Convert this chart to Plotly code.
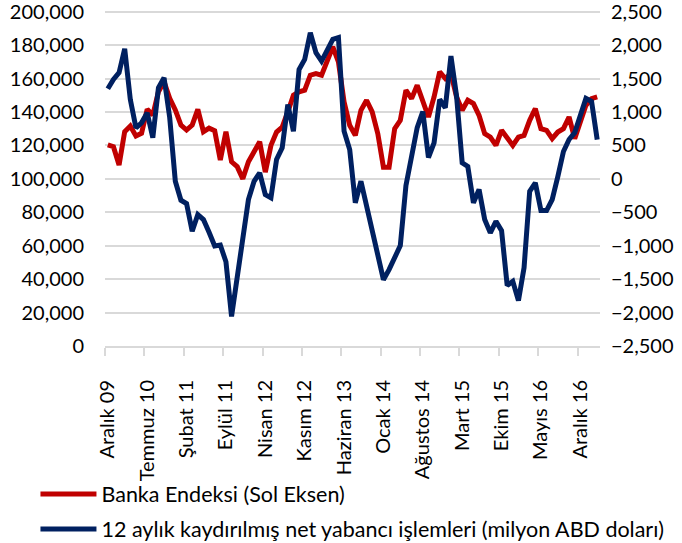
import plotly.graph_objects as go

# Months Dec 2009 .. Mar 2017 (88 monthly points)
month_names = ["Ocak", "Şubat", "Mart", "Nisan", "Mayıs", "Haziran",
               "Temmuz", "Ağustos", "Eylül", "Ekim", "Kasım", "Aralık"]
start_year, start_month = 2009, 12
n_points = 88

# Banka Endeksi (left axis)
bank_index = [
    120300, 119200, 108300, 128200, 131600, 125600, 127300, 141600, 138200, 152100,
    158100, 148200, 141200, 132200, 129200, 132200, 141600, 128200, 130300, 128800,
    111300, 128200, 110200, 107300, 100000, 110200, 116200, 122200, 104000, 120000,
    128000, 131000, 140000, 150000, 152000, 153000, 162000, 163000, 162000, 170000,
    179000, 170000, 146000, 132000, 126000, 141000, 147000, 140000, 127000, 107000,
    107000, 130000, 135000, 153000, 148000, 156000, 147000, 137000, 149000, 164000,
    160000, 163000, 149000, 141000, 147000, 145000, 138000, 127000, 125000, 120000,
    129000, 124000, 120000, 125000, 126000, 135000, 142000, 130000, 129000, 124000,
    128000, 130000, 137000, 124000, 133000, 144000, 148000, 149000,
]

# 12-month rolling net foreign transactions (right axis, million USD)
foreign_flows = [
    1347, 1487, 1587, 1946, 1187, 763, 838, 988, 614, 1362,
    1512, 918, -36, -320, -370, -784, -534, -609, -800, -1005,
    -990, -1240, -2057, -1478, -834, -310, -36, 90, -235, -284,
    289, 464, 1112, 713, 1636, 1785, 2186, 1886, 1760, 1936,
    2085, 2111, 713, 439, -359, -36, -410, -789, -1088, -1508,
    -1358, -1178, -998, -100, 289, 767, 1007, 319, 539, 1187,
    1063, 1835, 1237, 240, 184, -359, -160, -609, -808, -635,
    -774, -1597, -1533, -1822, -1328, -186, -60, -475, -475, -310,
    34, 409, 588, 690, 947, 1202, 1157, 588,
]

months = []
y, m = start_year, start_month
for _ in range(n_points):
    months.append(f"{month_names[m - 1]} {y % 100:02d}")
    m += 1
    if m > 12:
        m = 1
        y += 1

x_idx = list(range(n_points))
label_step = 7
tick_labels = months[::label_step]
label_pos = x_idx[::label_step]                      # category centres
tick_marks = [i - 0.5 for i in x_idx[::label_step]]  # category boundaries

left_ticks = list(range(0, 200001, 20000))
right_ticks = list(range(-2500, 2501, 500))

FONT = "Lato, 'Open Sans', sans-serif"
RED = "#C00000"
BLUE = "#002060"
GRID = "#D9D9D9"

fig = go.Figure()
fig.add_trace(go.Scatter(
    x=x_idx, y=bank_index, mode="lines", name="Banka Endeksi (Sol Eksen)",
    line=dict(color=RED, width=5), legendgroup="a",
    text=months, hovertemplate="%{text}: %{y:,}<extra></extra>",
))
fig.add_trace(go.Scatter(
    x=x_idx, y=foreign_flows, mode="lines", yaxis="y2",
    name="12 aylık kaydırılmış net yabancı işlemleri (milyon ABD doları)",
    line=dict(color=BLUE, width=5), legendgroup="b",
    text=months, hovertemplate="%{text}: %{y:,}<extra></extra>",
))

fig.update_layout(
    width=682, height=543,
    margin=dict(l=105, r=82, t=10, b=197, autoexpand=False),
    paper_bgcolor="white", plot_bgcolor="white",
    font=dict(family=FONT, size=20, color="#000000"),
    showlegend=True,
    legend=dict(
        orientation="v", xref="container", yref="container",
        x=0.052, xanchor="left", y=0.128, yanchor="top",
        font=dict(family=FONT, size=21.5, color="#000000"),
        itemwidth=56, tracegroupgap=4, bgcolor="rgba(0,0,0,0)",
    ),
    xaxis=dict(
        type="linear", range=[-0.5, n_points - 0.5], automargin=False,
        tickmode="array", tickvals=label_pos, ticktext=tick_labels,
        ticks="", tickangle=-90, showgrid=False,
        showline=True, linecolor=GRID, linewidth=2,
        ticklabelstandoff=24, zeroline=False,
        tickfont=dict(family=FONT, size=20, color="#000000"),
        minor=dict(tickmode="array", tickvals=tick_marks, ticks="outside",
                   ticklen=8, tickwidth=1.5, tickcolor=GRID, showgrid=False),
    ),
    yaxis=dict(
        range=[0, 201000], tickmode="array", tickvals=left_ticks,
        tickformat=",", showgrid=True, gridcolor=GRID, gridwidth=2,
        zeroline=False, showline=False, ticks="", ticklabelstandoff=20,
        automargin=False, ticklabeloverflow="allow",
        tickfont=dict(family=FONT, size=20, color="#000000"),
    ),
    yaxis2=dict(
        range=[-2500, 2525], tickmode="array", tickvals=right_ticks,
        tickformat=",", overlaying="y", side="right", showgrid=False,
        zeroline=False, showline=False, ticks="", ticklabelstandoff=10,
        automargin=False, ticklabeloverflow="allow",
        tickfont=dict(family=FONT, size=20, color="#000000"),
    ),
)

fig.write_html(
    "out.html",
    config={"displayModeBar": False},
    post_script="document.body.style.margin='0px';",
)
